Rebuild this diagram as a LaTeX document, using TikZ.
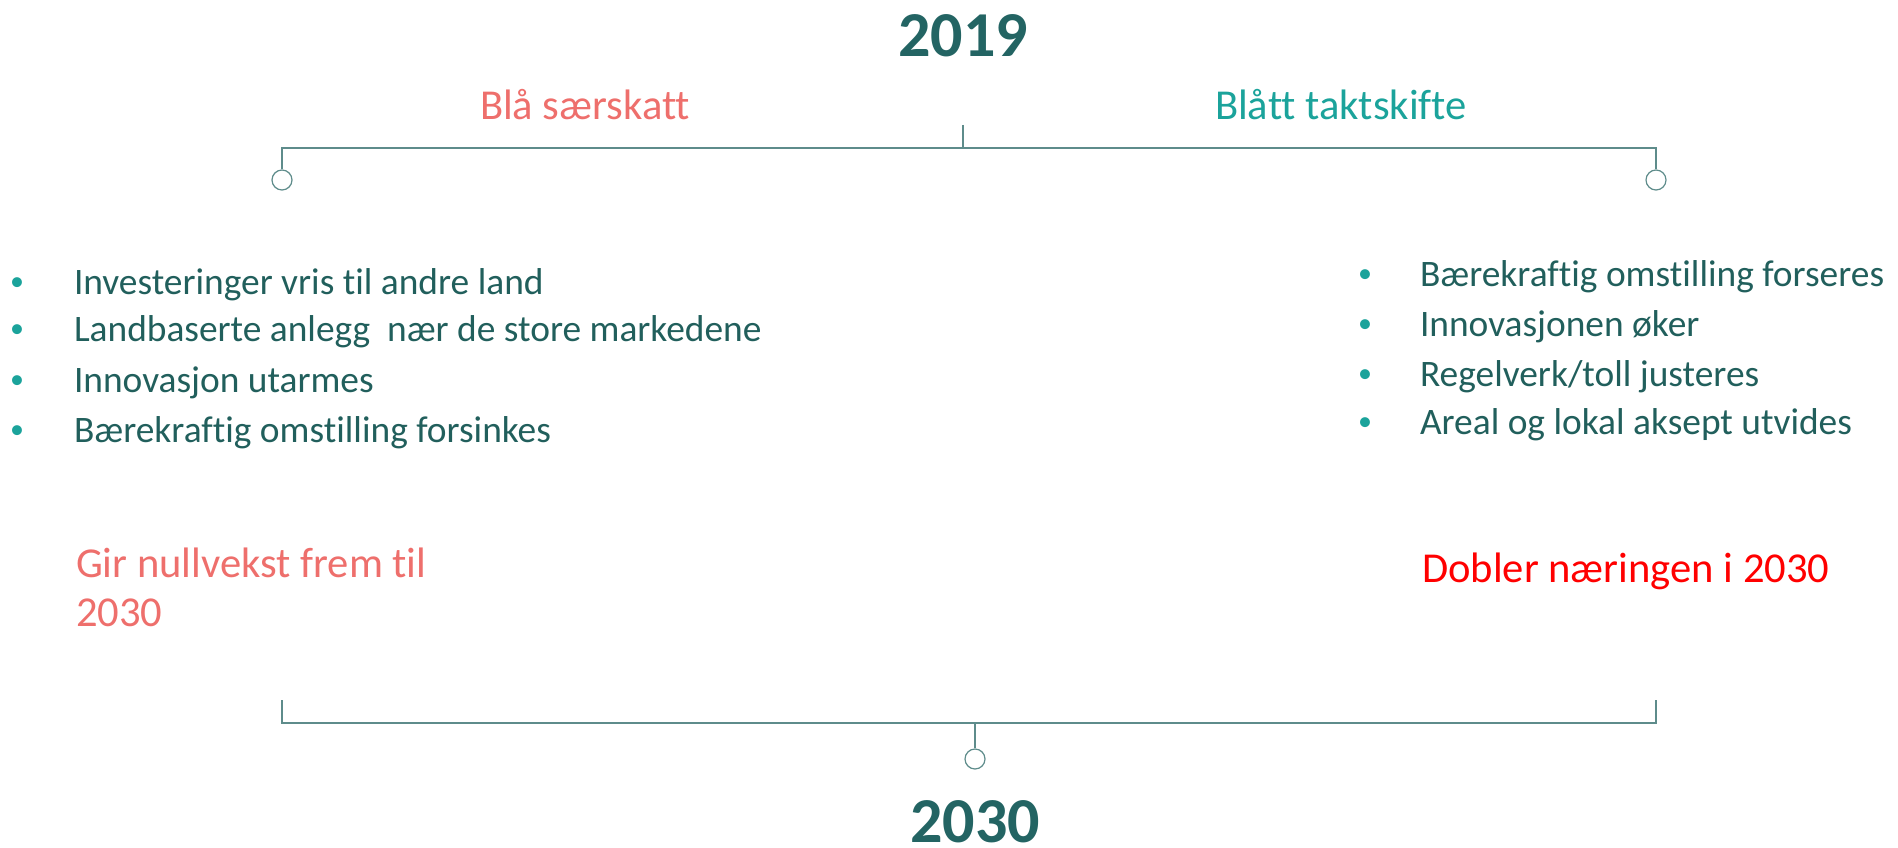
\documentclass[tikz,border=0pt]{standalone}
\usepackage{fontspec}
\setmainfont{Carlito}[Ligatures={NoCommon}]
\definecolor{darkteal}{HTML}{215F5C}
\definecolor{yearteal}{HTML}{236463}
\definecolor{salmon}{HTML}{EE6F6C}
\definecolor{lightteal}{HTML}{1BA39B}
\definecolor{linecol}{HTML}{5E8C8B}
\definecolor{brightred}{HTML}{FF0000}
\begin{document}
\begin{tikzpicture}[x=1pt,y=-1pt,
  txt/.style={inner sep=0pt, outer sep=0pt},
  year/.style={txt, anchor=base, text=yearteal, font=\fontsize{64}{70}\selectfont\bfseries},
  head/.style={txt, anchor=base, font=\fontsize{42.6}{50}\selectfont},
  item/.style={txt, anchor=base west, text=darkteal, font=\fontsize{37.4}{45}\selectfont},
  dot/.style={txt, anchor=base, text=lightteal, font=\fontsize{28}{34}\selectfont},
  conn/.style={draw=linecol, line width=1.4pt},
  knob/.style={circle, draw=linecol, line width=1.2pt, minimum size=20pt, inner sep=0pt, fill=white}
]
\useasboundingbox (0,0) rectangle (1898,848);

% titles
\node[year] (y2019) at (963,57) {2019};
\node[year] (y2030) at (975,842) {2030};

% headers
\node[head, text=salmon] (hl) at (585,120) {Blå særskatt};
\node[head, text=lightteal] (hr) at (1341,120) {Blått taktskifte};

% top tree
\coordinate (ttop) at (963,125);
\coordinate (tmid) at (963,148);
\coordinate (tl) at (282,148);
\coordinate (tr) at (1656,148);
\node[knob] (kl) at (282,180) {};
\node[knob] (kr) at (1656,180) {};
\draw[conn] (ttop) -- (tmid);
\draw[conn] (kl.north) -- (tl) -- (tr) -- (kr.north);

% bottom tree
\coordinate (bl) at (282,700);
\coordinate (blb) at (282,723);
\coordinate (br) at (1656,700);
\coordinate (brb) at (1656,723);
\coordinate (bmid) at (975,723);
\node[knob] (kb) at (975,759) {};
\draw[conn] (bl) -- (blb) -- (brb) -- (br);
\draw[conn] (bmid) -- (kb.north);

% left bullets
\node[dot] (dl1) at (17,290) {•};
\node[item] (l1) at (74,294) {Investeringer vris til andre land};
\node[dot] (dl2) at (17,337) {•};
\node[item] (l2) at (74,341) {Landbaserte anlegg\ \ nær de store markedene};
\node[dot] (dl3) at (17,388) {•};
\node[item] (l3) at (74,392) {Innovasjon utarmes};
\node[dot] (dl4) at (17,438) {•};
\node[item] (l4) at (74,442) {Bærekraftig omstilling forsinkes};

% right bullets
\node[dot] (dr1) at (1365,282) {•};
\node[item] (r1) at (1420,286) {Bærekraftig omstilling forseres};
\node[dot] (dr2) at (1365,332) {•};
\node[item] (r2) at (1420,336) {Innovasjonen øker};
\node[dot] (dr3) at (1365,382) {•};
\node[item] (r3) at (1420,386) {Regelverk/toll justeres};
\node[dot] (dr4) at (1365,430) {•};
\node[item] (r4) at (1420,434) {Areal og lokal aksept utvides};

% conclusions
\node[head, anchor=base west, text=salmon] (cl1) at (76,577) {Gir nullvekst frem til};
\node[head, anchor=base west, text=salmon] (cl2) at (76,626) {2030};
\node[head, anchor=base west, text=brightred] (cr) at (1422,582) {Dobler næringen i 2030};
\end{tikzpicture}
\end{document}
